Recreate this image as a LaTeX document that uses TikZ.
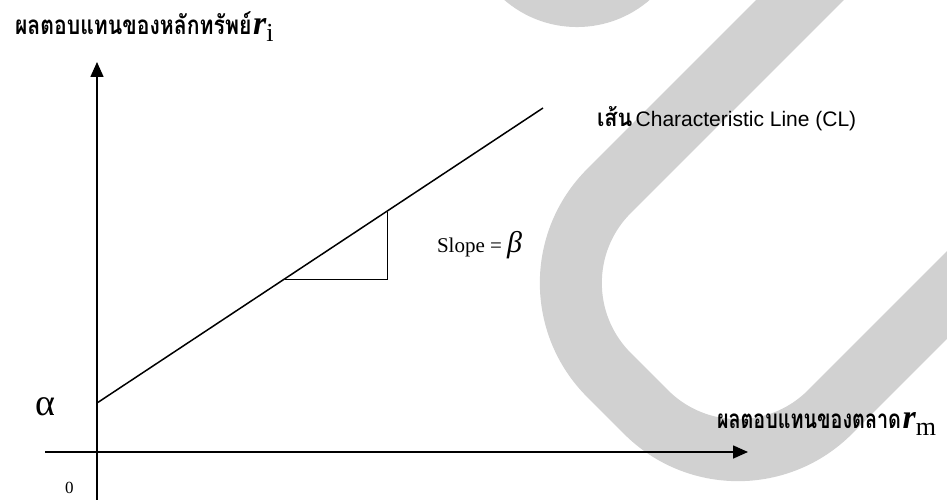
\documentclass[tikz,border=0pt]{standalone}
\usepackage{fontspec}
\usetikzlibrary{arrows.meta}
\newfontfamily\thaifont[Script=Thai]{Loma}
\newfontfamily\arialfont{Liberation Sans}
\newfontfamily\timesfont{Liberation Serif}
\tikzset{
  wm/.style={draw=black!18, line width=62pt},
  axis/.style={line width=1.6pt, -{Triangle[length=15pt,width=13pt]}},
  clline/.style={line width=1.5pt},
  tri/.style={line width=0.9pt},
  lbl/.style={inner sep=0pt, outer sep=0pt, anchor=base west},
}
\newcommand{\rsym}[1]{{\timesfont\fontsize{34}{34}\selectfont\bfseries\itshape r}\raisebox{-7pt}{\timesfont\fontsize{26}{26}\selectfont #1}}
\newcommand{\thaitext}[3]{\scalebox{#2}[1]{\thaifont\bfseries\fontsize{#1}{#1}\selectfont #3}}
\begin{document}
\begin{tikzpicture}[x=1pt,y=-1pt]
\useasboundingbox (0,0) rectangle (947,500);
\begin{scope}
\clip (0,0) rectangle (947,500);
% watermark
\draw[wm, rounded corners=130pt] (850,-50) -- (517,283) -- (738,504) -- (1000,242);
\draw[wm] (460,-88) -- (520.4,-27.4) arc[start angle=135, end angle=45, radius=80] -- (694,-88);
\end{scope}
% coordinates
\coordinate (xs) at (45,452);
\coordinate (xe) at (748,452);
\coordinate (yb) at (97,500);
\coordinate (ye) at (97,62);
\coordinate (a) at (97,403);
\coordinate (cl) at (543,108);
\coordinate (t1) at (285,279);
\coordinate (t2) at (387,279);
\coordinate (t3) at (387,212);
% axes
\draw[axis] (xs) -- (xe);
\draw[axis] (yb) -- (ye);
% characteristic line
\draw[clline] (a) -- (cl);
\draw[tri] (t1) -- (t2) -- (t3);
% labels
\node[lbl] (ylab) at (15,35) {\thaitext{26}{0.815}{ผลตอบแทนของหลักทรัพย์}\,\rsym{i}};
\node[lbl] (xlab) at (717,428) {\thaitext{26}{0.76}{ผลตอบแทนของตลาด}\,\rsym{m}};
\node[lbl] (cllab) at (597,126) {\thaitext{24}{0.9}{เส้น} {\arialfont\fontsize{21}{21}\selectfont Characteristic Line (CL)}};
\node[lbl] (slope) at (437,252) {{\timesfont\fontsize{21}{21}\selectfont Slope = }{\timesfont\fontsize{30}{30}\selectfont\itshape β}};
\node[lbl] (alpha) at (35,415) {\timesfont\fontsize{38}{38}\selectfont α};
\node[lbl] (zero) at (65,493) {\timesfont\fontsize{17}{17}\selectfont 0};
\end{tikzpicture}
\end{document}
